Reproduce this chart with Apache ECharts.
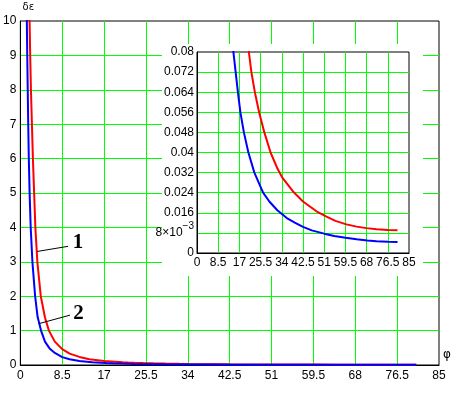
<!DOCTYPE html>
<html>
<head>
<meta charset="utf-8">
<script src="https://cdn.jsdelivr.net/npm/echarts@6/dist/echarts.min.js"></script>
<style>html,body{margin:0;padding:0;background:#fff}#c{width:459px;height:393px}</style>
</head>
<body>
<div id="c"></div>
<script>
// Curve 1 (red)
const curve1X = [1.8, 2.0, 2.15, 2.35, 2.55, 2.8, 3.05, 3.45, 4.15, 5.0, 5.8, 7.0, 8.5, 10, 12, 14, 17, 20.8, 21.8, 23.2, 24.9, 27.0, 29.5, 32.3, 34.2, 38.5, 42.5, 47.9, 51.9, 55.5, 59.9, 64, 67.9, 72, 76.6, 80.4];
const curve1Y = [10.6, 9.0, 8.0, 7.0, 6.0, 5.0, 4.0, 3.0, 2.0, 1.38, 1.0, 0.68, 0.46, 0.33, 0.235, 0.17, 0.118, 0.080, 0.072, 0.064, 0.056, 0.048, 0.040, 0.0335, 0.0300, 0.0245, 0.0205, 0.0166, 0.0145, 0.0128, 0.0114, 0.0105, 0.0099, 0.0095, 0.0092, 0.0091];
// Curve 2 (blue)
const curve2X = [1.25, 1.4, 1.5, 1.6, 1.72, 1.88, 2.1, 2.45, 3.0, 3.5, 4.2, 5.0, 6.0, 7.0, 8.5, 10, 12, 14.6, 15.5, 16.4, 17.4, 18.8, 20.6, 23.0, 26.5, 29, 32.2, 36, 39.2, 42.5, 46, 51, 55, 59.6, 64, 68.3, 72, 76.6, 80.4];
const curve2Y = [10.8, 9.0, 8.0, 7.0, 6.0, 5.0, 4.0, 3.0, 2.0, 1.4, 1.0, 0.68, 0.47, 0.35, 0.23, 0.165, 0.115, 0.080, 0.072, 0.064, 0.056, 0.048, 0.040, 0.032, 0.024, 0.0205, 0.0170, 0.0139, 0.0121, 0.0104, 0.0090, 0.0077, 0.0068, 0.0061, 0.0055, 0.0050, 0.0047, 0.0045, 0.0044];
// Tick labels
const mainXTicks = ['0','8.5','17','25.5','34','42.5','51','59.5','68','76.5','85'];
const mainYTicks = ['0','1','2','3','4','5','6','7','8','9','10'];
const insetXTicks = ['0','8.5','17','25.5','34','42.5','51','59.5','68','76.5','85'];
const insetYTicks = ['0','8×10{sup|−3}','0.016','0.024','0.032','0.04','0.048','0.056','0.064','0.072','0.08'];
const curveLabels = ['1','2'];
const xName = 'φ';
const yName = 'δε';

const pairs = (xs, ys) => xs.map((x, i) => [x, ys[i]]);
const GREEN = '#00ff00';
const FONT = 'Liberation Sans';
const chart = echarts.init(document.getElementById('c'), null, {renderer: 'canvas'});

function axisCommon(ticks, interval, max, extra) {
  return Object.assign({
    type: 'value', min: 0, max: max, interval: interval,
    axisLine: {show: true, onZero: false, lineStyle: {color: '#000', width: 1}},
    axisTick: {show: false},
    splitLine: {show: true, showMinLine: false, showMaxLine: false, lineStyle: {color: GREEN, width: 1}}
  }, extra || {});
}

function lineSeries(xi, xs, ys, color, z) {
  return {type: 'line', xAxisIndex: xi, yAxisIndex: xi, data: pairs(xs, ys), showSymbol: false, symbol: 'none',
    lineStyle: {color: color, width: 2}, z: z, clip: true};
}

chart.setOption({
  animation: false,
  backgroundColor: '#fff',
  grid: [
    {left: 19, top: 21, width: 420, height: 344, show: true, borderColor: '#000', borderWidth: 1, backgroundColor: 'transparent', z: 0},
    {left: 197, top: 52, width: 212, height: 201, show: true, borderColor: '#000', borderWidth: 1, backgroundColor: 'transparent', z: 3}
  ],
  xAxis: [
    axisCommon(mainXTicks, 8.5, 85, {gridIndex: 0, z: 0, axisLabel: {color:'#000', fontFamily: FONT, fontSize: 12, margin: 5, formatter: v => mainXTicks[Math.round(v / 8.5)]}}),
    axisCommon(insetXTicks, 8.5, 85, {gridIndex: 1, z: 3, axisLabel: {color:'#000', fontFamily: FONT, fontSize: 12, margin: 4, formatter: v => insetXTicks[Math.round(v / 8.5)]}})
  ],
  yAxis: [
    axisCommon(mainYTicks, 1, 10, {gridIndex: 0, z: 0, axisLabel: {color:'#000', fontFamily: FONT, fontSize: 12, margin: 4, formatter: v => mainYTicks[Math.round(v)]}}),
    axisCommon(insetYTicks, 0.008, 0.08, {gridIndex: 1, z: 3, axisLabel: {color:'#000', fontFamily: FONT, fontSize: 12, margin: 3,
      formatter: v => insetYTicks[Math.round(v / 0.008)],
      rich: {sup: {fontFamily: FONT, fontSize: 10, verticalAlign: 'bottom', lineHeight: 10, padding: [0,0,8,0], color:'#000'}}}})
  ],
  series: [
    lineSeries(0, curve1X, curve1Y, '#ff0000', 2),
    lineSeries(0, curve2X, curve2Y, '#0000ff', 2),
    lineSeries(1, curve1X, curve1Y, '#ff0000', 5),
    lineSeries(1, curve2X, curve2Y, '#0000ff', 5)
  ]
});

// annotations in data coordinates of the main grid
const p = (x, y) => chart.convertToPixel({gridIndex: 0}, [x, y]);
const a1s = p(3.4, 3.3), a1e = p(9.7, 3.45), t1 = p(11.7, 3.55);
const a2s = p(3.7, 1.2), a2e = p(10.1, 1.45), t2 = p(11.8, 1.5);
const xEnd = p(85, 0), yTop = p(0, 10);

chart.setOption({
  graphic: [
    {type: 'rect', z: 1, shape: {x: 162, y: 44, width: 261, height: 232}, style: {fill: '#fff'}},
    {type: 'line', z: 10, shape: {x1: a1s[0], y1: a1s[1], x2: a1e[0], y2: a1e[1]}, style: {stroke: '#000', lineWidth: 1}},
    {type: 'line', z: 10, shape: {x1: a2s[0], y1: a2s[1], x2: a2e[0], y2: a2e[1]}, style: {stroke: '#000', lineWidth: 1}},
    {type: 'text', z: 10, x: t1[0], y: t1[1], style: {text: curveLabels[0], font: 'bold 21px "Liberation Serif"', fill: '#000', align: 'center', verticalAlign: 'middle'}},
    {type: 'text', z: 10, x: t2[0], y: t2[1], style: {text: curveLabels[1], font: 'bold 21px "Liberation Serif"', fill: '#000', align: 'center', verticalAlign: 'middle'}},
    {type: 'text', z: 10, x: xEnd[0] + 8, y: xEnd[1] - 10, style: {text: xName, font: '12px "DejaVu Sans"', fill: '#000', align: 'center', verticalAlign: 'middle'}},
    {type: 'text', z: 10, x: yTop[0] + 8, y: yTop[1] - 14, style: {text: yName, font: '10px "DejaVu Sans"', fill: '#000', align: 'center', verticalAlign: 'middle'}}
  ]
});
</script>
</body>
</html>
